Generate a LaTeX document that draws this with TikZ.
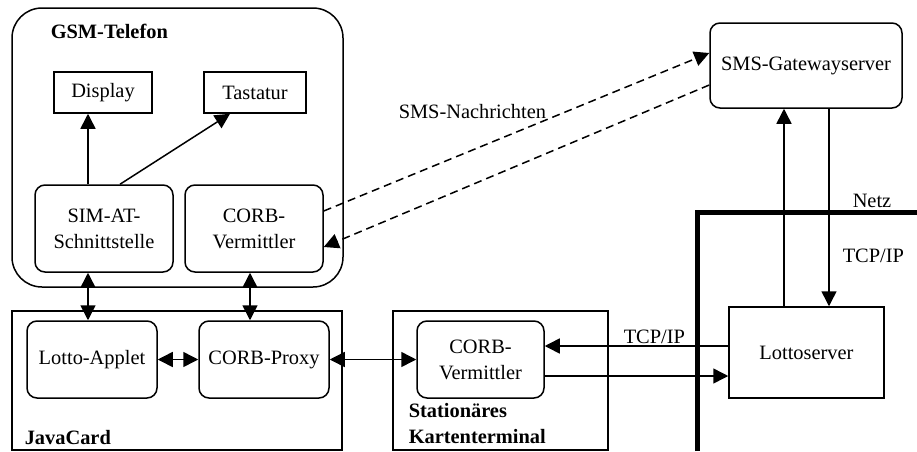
\documentclass[tikz,border=0pt]{standalone}
\usepackage{fontspec}
\setmainfont{Liberation Serif}
\usetikzlibrary{arrows.meta}
\begin{document}
\begin{tikzpicture}[
  x=0.5pt, y=-0.5pt,
  font=\fontsize{10.2}{13}\selectfont,
  line width=0.75pt,
  tip/.style={-{Triangle[length=7.5pt,width=7.5pt]}},
  dtip/.style={{Triangle[length=7.5pt,width=7.5pt]}-{Triangle[length=7.5pt,width=7.5pt]}},
  sqbox/.style={draw, rectangle, inner sep=0pt, align=center},
  rbox/.style={draw, rectangle, rounded corners=5pt, inner sep=0pt, align=center},
  frame/.style={draw, rectangle, inner sep=0pt},
  lbl/.style={anchor=base west, inner sep=0pt},
  blbl/.style={anchor=base west, inner sep=0pt, font=\fontsize{10.2}{13}\selectfont\bfseries},
  sms/.style={dashed, dash pattern=on 4pt off 2.5pt},
  netz/.style={line width=2.5pt, line join=miter}
]
\useasboundingbox (0,0) rectangle (917,451);

% containers
\node[frame, rounded corners=15pt, minimum width=165.5pt, minimum height=139.5pt] (gsm) at (177.5,147.5) {};
\node[frame, minimum width=165pt, minimum height=69.5pt] (jc) at (177,380.5) {};
\node[frame, minimum width=107.5pt, minimum height=69.5pt] (kt) at (500.5,380.5) {};

\node[blbl] (gsmlbl) at (50,38) {GSM-Telefon};
\node[blbl] (jclbl) at (24,444) {JavaCard};
\node[blbl] (ktlblA) at (408,417) {Stationäres};
\node[blbl] (ktlblB) at (408,443) {Kartenterminal};

% GSM phone parts
\node[sqbox, minimum width=49pt, minimum height=20.5pt] (disp) at (103,92.5) {Display};
\node[sqbox, minimum width=51pt, minimum height=20.5pt] (tast) at (255,92.5) {Tastatur};
\node[rbox, minimum width=69pt, minimum height=43.5pt] (sim) at (104,228.5) {SIM-AT-\\Schnittstelle};
\node[rbox, minimum width=69pt, minimum height=43.5pt] (cvph) at (254,228.5) {CORB-\\Vermittler};

% JavaCard parts
\node[rbox, minimum width=65pt, minimum height=38.5pt] (applet) at (92,359.5) {Lotto-Applet};
\node[rbox, minimum width=65pt, minimum height=38.5pt] (proxy) at (264,359.5) {CORB-Proxy};

% terminal
\node[rbox, minimum width=63.5pt, minimum height=38.5pt] (cvkt) at (480.5,359.5) {CORB-\\Vermittler};

% servers
\node[rbox, minimum width=96pt, minimum height=42.5pt] (gw) at (806,65.5) {SMS-Gatewayserver};
\node[sqbox, minimum width=77.5pt, minimum height=45.5pt] (lotto) at (806.5,352.5) {Lottoserver};

% network border
\coordinate (nb) at (697,451);
\coordinate (nc) at (697,212);
\coordinate (ne) at (917,212);
\draw[netz] (nb) -- (nc) -- (ne);
\node[lbl] (netzlbl) at (852,207) {Netz};

% connectors inside the phone
\draw[tip] (sim.north -| 88,0) -- (disp.south -| 88,0);
\draw[tip] (sim.north -| 120,0) -- (tast.south -| 230,0);

% phone <-> card
\draw[dtip] (sim.south -| 88,0) -- (applet.north -| 88,0);
\draw[dtip] (cvph.south -| 250,0) -- (proxy.north -| 250,0);
\draw[dtip] (applet.east) -- (proxy.west);
\draw[dtip] (proxy.east) -- (cvkt.west);

% SMS link
\draw[sms, tip] (cvph.east |- 0,211) -- (gw.west |- 0,53);
\draw[sms, tip] (gw.west |- 0,85) -- (cvph.east |- 0,247);
\node[lbl] (smslbl) at (398,118) {SMS-Nachrichten};

% gateway <-> lottoserver
\draw[tip] (lotto.north -| 784,0) -- (gw.south -| 784,0);
\draw[tip] (gw.south -| 829,0) -- (lotto.north -| 829,0);
\node[lbl] (tcpA) at (842,262) {TCP/IP};

% terminal <-> lottoserver
\draw[tip] (lotto.west |- 0,346) -- (cvkt.east |- 0,346);
\draw[tip] (cvkt.east |- 0,376) -- (lotto.west |- 0,376);
\node[lbl] (tcpB) at (623,343) {TCP/IP};
\end{tikzpicture}
\end{document}
